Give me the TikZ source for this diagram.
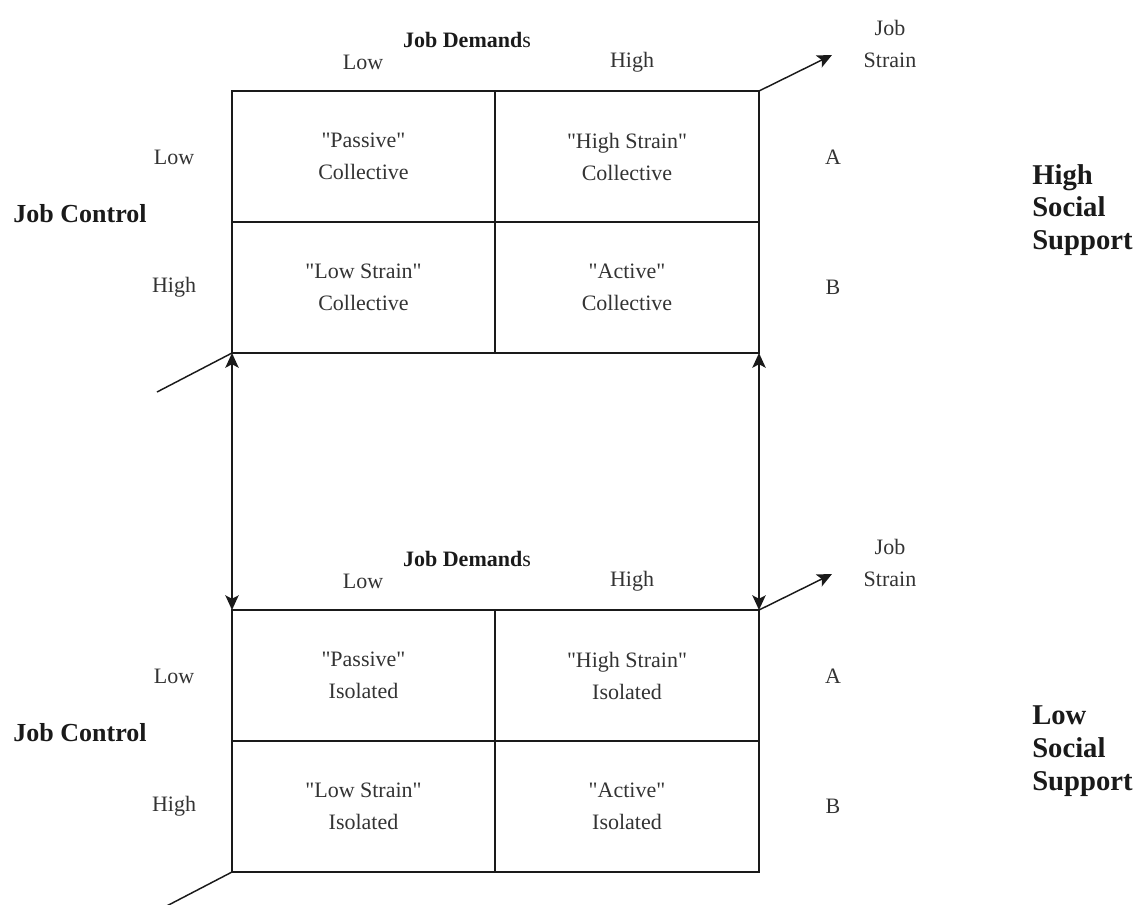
\documentclass[tikz,border=0pt]{standalone}
\usepackage{fontspec}
\setmainfont{Liberation Serif}
\usetikzlibrary{arrows.meta,positioning}
\definecolor{Ink}{HTML}{1A1A1A}
\definecolor{Txt}{HTML}{333333}
\newcommand{\qt}[1]{\textquotedbl#1\textquotedbl}

\tikzset{
  lab/.style={font=\fontsize{16.5}{24}\selectfont, text=Txt, align=center, inner sep=0pt},
  hdr/.style={font=\fontsize{16.5}{24}\selectfont\bfseries, text=Ink, inner sep=0pt},
  side/.style={font=\fontsize{19.5}{24.5}\selectfont\bfseries, text=Ink, align=left, inner sep=0pt},
  support/.style={side, font=\fontsize{21.5}{24.5}\selectfont\bfseries},
  gridline/.style={draw=Ink, line width=1.3pt},
  arr/.style={-{Stealth[length=11pt,width=10pt,inset=2.5pt]}, draw=Ink, line width=1.1pt},
  darr/.style={{Stealth[length=11pt,width=10pt,inset=2.5pt]}-{Stealth[length=11pt,width=10pt,inset=2.5pt]}, draw=Ink, line width=1.1pt},
}

\begin{document}
\begin{tikzpicture}[x=0.75pt,y=-0.75pt]
  \useasboundingbox (0,0) rectangle (1135,904);
  \foreach \p/\oy/\grp in {t/0/Collective, b/519/Isolated} {
    % corners of the 2x2 table
    \coordinate (\p-nw) at (232,91+\oy);
    \coordinate (\p-ne) at (759,91+\oy);
    \coordinate (\p-sw) at (232,353+\oy);
    \coordinate (\p-se) at (759,353+\oy);
    \coordinate (\p-n)  at (495,91+\oy);
    \coordinate (\p-s)  at (495,353+\oy);
    \coordinate (\p-w)  at (232,222+\oy);
    \coordinate (\p-e)  at (759,222+\oy);
    \draw[gridline] (\p-nw) rectangle (\p-se);
    \draw[gridline] (\p-n) -- (\p-s);
    \draw[gridline] (\p-w) -- (\p-e);
    % cells
    \node[lab] (\p-c11) at (363.5,156.5+\oy) {\qt{Passive}\\\grp};
    \node[lab] (\p-c12) at (627,156.5+\oy) {\qt{High Strain}\\\grp};
    \node[lab] (\p-c21) at (363.5,287.5+\oy) {\qt{Low Strain}\\\grp};
    \node[lab] (\p-c22) at (627,287.5+\oy) {\qt{Active}\\\grp};
    % headings
    \node[hdr] (\p-jd) at (467,40+\oy) {Job Demand{\mdseries s}};
    \node[lab] (\p-dlo) at (363,62+\oy) {Low};
    \node[lab] (\p-dhi) at (632,62+\oy) {High};
    \node[side] (\p-jc) at (80,214+\oy) {Job Control};
    \node[lab] (\p-clo) at (174,157+\oy) {Low};
    \node[lab] (\p-chi) at (174,287+\oy) {High};
    \node[lab] (\p-a) at (833,157+\oy) {A};
    \node[lab] (\p-b) at (833,287+\oy) {B};
    % job strain arrow
    \coordinate (\p-tip) at (832,55+\oy);
    \node[lab] (\p-js) at (890,44+\oy) {Job\\Strain};
    \draw[arr] (\p-ne) -- (\p-tip);
    \coordinate (\p-tail) at (157,392+\oy);
    \draw[Ink, line width=1.1pt] (\p-tail) -- (\p-sw);
  }
  \node[support, anchor=west] (hss) at (1032,210) {High\\Social\\Support};
  \node[support, anchor=west] (lss) at (1032,751) {Low\\Social\\Support};
  \draw[darr] (t-sw) -- (b-nw);
  \draw[darr] (t-se) -- (b-ne);
\end{tikzpicture}
\end{document}
